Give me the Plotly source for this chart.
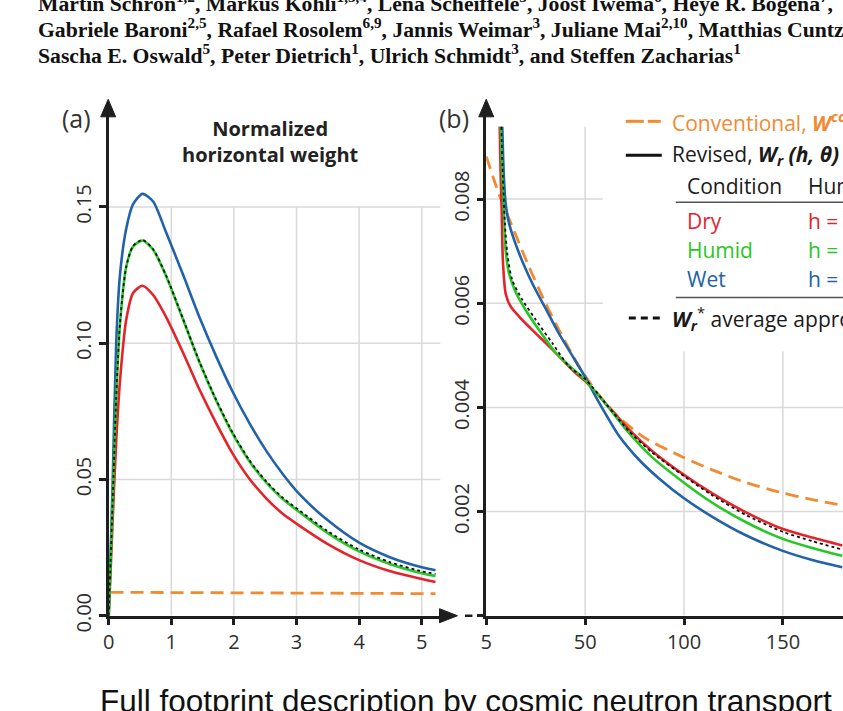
import plotly.graph_objects as go

# reference frame (pixels of the reference picture)
W, H = 843, 711
# page size used for the figure (the capture is squeezed back to 843x711)
FIG_H = 727
# small horizontal pre-compensation of the capture
XOFF, XK = 6.5, 0.994


def px(x):
    return ((x - XOFF) / XK) / W


def py(y):
    return 1 - y / H


# ---------------- data: panel (a) normalized horizontal weight ----------------
r_a = [0, 0.03, 0.065, 0.12, 0.18, 0.28, 0.39, 0.54, 0.71, 0.92, 1.19, 1.45, 1.72, 1.98,
       2.25, 2.52, 2.78, 3.05, 3.5, 4.0, 4.5, 5.0, 5.22]
wet_a = [0, 0.022, 0.05, 0.10, 0.125, 0.142, 0.151, 0.1548, 0.152, 0.1405, 0.1250, 0.1095,
         0.0950, 0.0822, 0.0706, 0.0604, 0.0520, 0.0445, 0.0350, 0.0268, 0.0214, 0.0178, 0.0167]
humid_a = [0, 0.020, 0.043, 0.080, 0.107, 0.128, 0.1355, 0.1377, 0.1343, 0.1245, 0.1086,
           0.0930, 0.0788, 0.0668, 0.0566, 0.0488, 0.0428, 0.0380, 0.0303, 0.0236, 0.0189,
           0.0156, 0.0146]
dry_a = [0, 0.016, 0.036, 0.064, 0.086, 0.1086, 0.1184, 0.1211, 0.1177, 0.1095, 0.0964,
         0.0830, 0.0705, 0.0595, 0.0502, 0.0430, 0.0374, 0.0330, 0.0263, 0.0204, 0.0163,
         0.0135, 0.0124]
avg_a = [0, 0.020, 0.043, 0.080, 0.107, 0.128, 0.1357, 0.1379, 0.1345, 0.1247, 0.1088,
         0.0932, 0.0791, 0.0672, 0.0570, 0.0492, 0.0433, 0.0386, 0.0310, 0.0243, 0.0196,
         0.0163, 0.0154]
r_conv_a = [0.03, 1, 2, 3, 4, 5, 5.22]
conv_a = [0.0086, 0.0085, 0.0084, 0.0083, 0.0082, 0.0081, 0.0081]

xticks_a = [0, 1, 2, 3, 4, 5]
yticks_a = [0, 0.05, 0.10, 0.15]

# ---------------- data: panel (b) ----------------
r_wet_b = [8.1, 8.9, 9.8, 11.5, 16.5, 23.2, 30, 36.7, 43.4, 50.2, 56.9, 67, 77.1, 87.2,
           99.8, 114.3, 131, 149.6, 164.8, 180]
wet_b = [0.00939, 0.00843, 0.00792, 0.00754, 0.00697, 0.00639, 0.00590, 0.00542, 0.00500,
         0.00457, 0.00410, 0.00346, 0.00300, 0.00264, 0.00226, 0.00190, 0.00155, 0.00125,
         0.00107, 0.00093]
r_humid_b = [7.3, 8.1, 8.9, 9.8, 11.5, 14.8, 19.9, 26.6, 35.1, 43.4, 50.2, 60.3, 71.9,
             83.7, 99.8, 114.3, 131.1, 149.6, 164.8, 180]
humid_b = [0.00939, 0.00843, 0.00778, 0.00702, 0.00658, 0.00622, 0.00587, 0.00549, 0.00505,
           0.00475, 0.00452, 0.00407, 0.00352, 0.00305, 0.00256, 0.00217, 0.00180, 0.00148,
           0.00130, 0.00115]
r_dry_b = [6.8, 7.3, 7.8, 8.4, 9.8, 12.3, 16.5, 23.2, 30, 38.4, 45.2, 50.2, 60.3, 72.1,
           83.7, 99.8, 114.3, 131.1, 149.6, 164.8, 180]
dry_b = [0.00939, 0.00843, 0.00778, 0.00683, 0.00619, 0.00594, 0.00575, 0.00549, 0.00524,
         0.00492, 0.00466, 0.0045, 0.00408, 0.00358, 0.00317, 0.00271, 0.00235, 0.00199,
         0.00167, 0.0015, 0.00135]
r_avg_b = [7.6, 8.4, 9.4, 10.6, 13.1, 18.2, 24.9, 33.3, 41.8, 50.2, 60.3, 72, 84, 100,
           114, 131, 150, 165, 180]
avg_b = [0.00939, 0.00843, 0.00755, 0.00697, 0.00645, 0.00607, 0.00569, 0.00524, 0.00479,
         0.00454, 0.00408, 0.00355, 0.00313, 0.00268, 0.00232, 0.00194, 0.00161, 0.00143,
         0.00127]
r_conv_b = [0, 6.4, 13.1, 21.6, 30, 38.4, 46.8, 51.9, 56.9, 67, 80.4, 99.8, 114.3, 131.1,
            149.6, 164.8, 180]
conv_b = [0.00882, 0.0081, 0.00748, 0.0067, 0.006, 0.00537, 0.00479, 0.0045, 0.00424,
          0.00381, 0.00341, 0.00304, 0.0028, 0.00256, 0.00236, 0.00223, 0.00212]

xticks_b = [0, 50, 100, 150]
xticklabels_b = ["5", "50", "100", "150"]
yticks_b = [0, 0.002, 0.004, 0.006, 0.008]
yticklabels_b = ["", "0.002", "0.004", "0.006", "0.008"]

# ---------------- styles ----------------
ORANGE = "#F28A30"
RED = "#E5232B"
GREEN = "#27C727"
BLUE = "#2262A8"
BLACK = "#111111"
GRID = "#D9D9D9"
AXIS = "#1E1E1E"
TXT = "#2E2E2E"

fig = go.Figure()


def add_line(x, y, color, xa, ya, width=2.6, dash=None, shape="spline"):
    fig.add_trace(go.Scatter(
        x=x, y=y, mode="lines", xaxis=xa, yaxis=ya, showlegend=False,
        hoverinfo="skip",
        line=dict(color=color, width=width, dash=dash, shape=shape, smoothing=0.7),
        cliponaxis=True,
    ))


# panel (a)
add_line(r_conv_a, conv_a, ORANGE, "x", "y", width=2.8, dash="13px,7px", shape="linear")
add_line(r_a, dry_a, RED, "x", "y")
add_line(r_a, wet_a, BLUE, "x", "y")
add_line(r_a, humid_a, GREEN, "x", "y")
add_line(r_a, avg_a, BLACK, "x", "y", width=1.8, dash="3px,3px")

# panel (b)
add_line(r_conv_b, conv_b, ORANGE, "x2", "y2", width=2.8, dash="13px,7px")
add_line(r_dry_b, dry_b, RED, "x2", "y2")
add_line(r_wet_b, wet_b, BLUE, "x2", "y2")
add_line(r_humid_b, humid_b, GREEN, "x2", "y2")
add_line(r_avg_b, avg_b, BLACK, "x2", "y2", width=1.8, dash="3px,3px")

# ---------------- axes ----------------
Y_BOTTOM, Y_TOP = 616.6, 116
ydom = [py(Y_BOTTOM), py(Y_TOP)]
A_XSCALE = 62.68
A_YSCALE = 2729
B_XSCALE = 1.98
B_YSCALE = 52150
A_X0, B_X0 = 109.3, 487.3
A_XEND = 441.5

tickfont = dict(family="Open Sans", size=20, color=TXT)
common_axis = dict(showgrid=False, zeroline=False, showline=True, linecolor=AXIS,
                   linewidth=2.5, ticks="outside", ticklen=7, tickwidth=2.5,
                   tickcolor=AXIS, tickfont=tickfont, fixedrange=True)

fig.update_layout(
    xaxis=dict(domain=[px(A_X0), px(A_XEND)], range=[0, (A_XEND - A_X0) / A_XSCALE],
               tickvals=xticks_a, anchor="y", **common_axis),
    yaxis=dict(domain=ydom, range=[0, (Y_BOTTOM - Y_TOP) / A_YSCALE],
               tickvals=yticks_a, tickformat=".2f", tickangle=-90, anchor="x",
               **common_axis),
    xaxis2=dict(domain=[px(B_X0), 1.0], range=[0, (W * XK + XOFF - B_X0) / B_XSCALE],
                tickvals=xticks_b, ticktext=xticklabels_b, anchor="y2", **common_axis),
    yaxis2=dict(domain=ydom, range=[0, (Y_BOTTOM - Y_TOP) / B_YSCALE],
                tickvals=yticks_b, ticktext=yticklabels_b, tickangle=-90, anchor="x2",
                **common_axis),
)

shapes = []
# gridlines panel (a)
for t in xticks_a[1:]:
    shapes.append(dict(type="line", xref="x", yref="y", x0=t, x1=t, y0=0,
                       y1=yticks_a[-1], line=dict(color=GRID, width=1.5), layer="below"))
for t in yticks_a[1:]:
    shapes.append(dict(type="line", xref="x", yref="y", x0=0,
                       x1=(A_XEND - A_X0) / A_XSCALE, y0=t, y1=t,
                       line=dict(color=GRID, width=1.5), layer="below"))
# gridlines panel (b) (partly hidden behind legend block)
LEG_LEFT_X = (604 - B_X0) / B_XSCALE
LEG_BOTTOM_Y = (Y_BOTTOM - 352) / B_YSCALE
TOP_B = (Y_BOTTOM - 127) / B_YSCALE
X2_END = (W * XK + XOFF - B_X0) / B_XSCALE
for t in xticks_b[1:]:
    top = TOP_B if t < LEG_LEFT_X else LEG_BOTTOM_Y
    shapes.append(dict(type="line", xref="x2", yref="y2", x0=t, x1=t, y0=0, y1=top,
                       line=dict(color=GRID, width=1.5), layer="below"))
for t in yticks_b[1:]:
    right = X2_END if t < LEG_BOTTOM_Y else LEG_LEFT_X
    shapes.append(dict(type="line", xref="x2", yref="y2", x0=0, x1=right, y0=t, y1=t,
                       line=dict(color=GRID, width=1.5), layer="below"))


def tri(points, color=AXIS):
    path = "M " + " L ".join(f"{px(a):.5f},{py(b):.5f}" for a, b in points) + " Z"
    return dict(type="path", xref="paper", yref="paper", path=path,
                fillcolor=color, line=dict(color=color, width=1), layer="above")


def seg(x0, x1, y, color, width, dash=None):
    return dict(type="line", xref="paper", yref="paper", x0=px(x0), x1=px(x1),
                y0=py(y), y1=py(y), line=dict(color=color, width=width, dash=dash))


# axis arrows
shapes.append(tri([(108.8, 99.5), (101.3, 117), (116.3, 117)]))
shapes.append(tri([(487.3, 99.5), (479.8, 117), (494.8, 117)]))
shapes.append(tri([(458.5, 616.6), (440.5, 609.6), (440.5, 623.6)]))
shapes.append(seg(440, 441.5, 616.6, AXIS, 2.5))
# axis break dash before panel (b)
shapes.append(seg(466, 473.5, 616.6, AXIS, 2.5))

# legend samples
shapes.append(seg(627, 645, 121.5, ORANGE, 3))
shapes.append(seg(649, 662, 121.5, ORANGE, 3))
shapes.append(seg(627, 663, 155.5, BLACK, 3))
shapes.append(seg(630, 662, 318.5, BLACK, 3, dash="7px,5px"))
# table rules
for yy in (202.5, 298):
    shapes.append(dict(type="line", xref="paper", yref="paper", x0=px(677), x1=1.0,
                       y0=py(yy), y1=py(yy), line=dict(color="#555555", width=1.5)))

fig.update_layout(shapes=shapes)

annotations = []


def note(text, x, y, size=21, color=TXT, family="Open Sans", xanchor="left",
         yanchor="middle", align="left"):
    annotations.append(dict(text=text, x=px(x), y=py(y), xref="paper", yref="paper",
                            showarrow=False, xanchor=xanchor, yanchor=yanchor,
                            align=align, font=dict(family=family, size=size, color=color)))


# header (author list, cut by the screenshot)
SERIF = "Liberation Serif"
note("<b>Martin Schrön<sup>1,2</sup>, Markus Köhli<sup>1,3,4</sup>, Lena Scheiffele<sup>5</sup>, "
     "Joost Iwema<sup>6</sup>, Heye R. Bogena<sup>7</sup>,</b>", 37, 2, size=21.7,
     color="#111111", family=SERIF)
note("<b>Gabriele Baroni<sup>2,5</sup>, Rafael Rosolem<sup>6,9</sup>, Jannis Weimar<sup>3</sup>, "
     "Juliane Mai<sup>2,10</sup>, Matthias Cuntz</b>", 37, 28.5, size=21.7,
     color="#111111", family=SERIF)
note("<b>Sascha E. Oswald<sup>5</sup>, Peter Dietrich<sup>1</sup>, Ulrich Schmidt<sup>3</sup>, "
     "and Steffen Zacharias<sup>1</sup></b>", 37, 54.5, size=21.7,
     color="#111111", family=SERIF)

# panel labels and title
note("(a)", 77, 118, size=25, color="#333333", xanchor="center")
note("(b)", 455.5, 118, size=25, color="#333333", xanchor="center")
note("<b>Normalized<br>horizontal weight</b>", 271, 142, size=20, color="#222222",
     xanchor="center", align="center")

# legend
note("Conventional, <b><i>W</i></b><sup><b><i>conv</i></b></sup>", 671, 121.5, color=ORANGE)
note("Revised, <b><i>W<sub>r</sub> (h, θ)</i></b>", 671, 155.5, color="#1A1A1A")
note("Condition", 686, 186.5, color="#1A1A1A")
note("Humidity", 807, 186.5, color="#1A1A1A")
note("Dry", 686, 221.5, color=RED)
note("h =", 807, 221.5, color=RED)
note("Humid", 686, 250, color=GREEN)
note("h =", 807, 250, color=GREEN)
note("Wet", 686, 279, color=BLUE)
note("h =", 807, 279, color=BLUE)
note("<b><i>W<sub>r</sub></i></b><sup>*</sup> average approach", 671, 318.5, color="#1A1A1A")

# caption at the bottom of the screenshot
note("Full footprint description by cosmic neutron transport", 99, 702, size=31.5,
     color="#111111", family="Liberation Sans")

fig.update_layout(
    annotations=annotations,
    width=W, height=FIG_H,
    margin=dict(l=0, r=0, t=0, b=0),
    paper_bgcolor="white", plot_bgcolor="rgba(0,0,0,0)",
    font=dict(family="Open Sans", color=TXT),
    showlegend=False,
)

PAGE_FIX = (
    "var d=document.getElementById('{plot_id}');"
    "var de=document.documentElement, bd=document.body;"
    "de.style.margin='0';de.style.padding='0';de.style.overflow='hidden';"
    "bd.style.margin='0';bd.style.padding='0';bd.style.overflow='hidden';"
    "if(d){d.style.position='absolute';d.style.left='0px';d.style.top='0px';}"
)

fig.write_html("out.html", config={"displayModeBar": False}, post_script=PAGE_FIX)
